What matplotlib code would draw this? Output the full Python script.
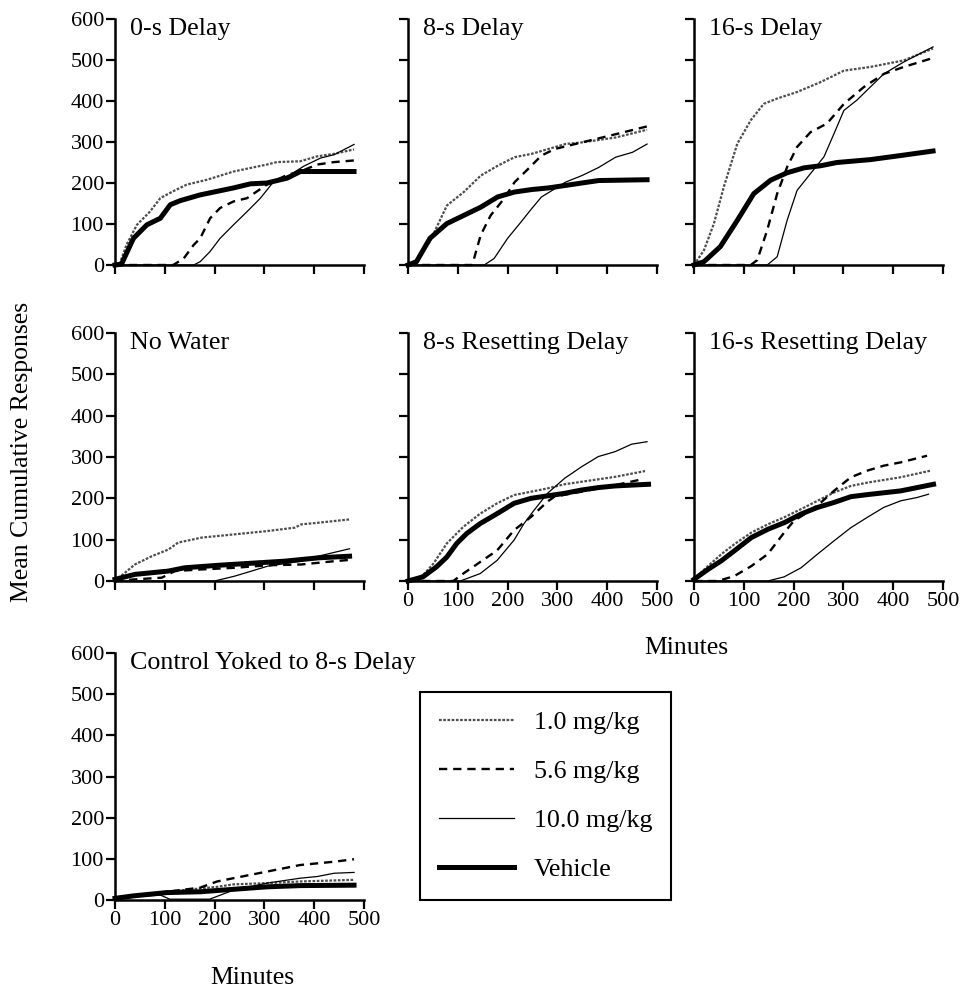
import matplotlib
matplotlib.use("Agg")
import matplotlib.pyplot as plt

plt.rcParams['font.family'] = ['Liberation Serif', 'DejaVu Serif']

# (minutes, mean cumulative responses)
d0_1mg = [(0,0),(10,5),(23,49),(44,98),(70,130),(91,163),(117,180),(144,196),(185,208),(238,228),(305,245),(325,251),(372,253),(406,265),(440,271),(480,282)]
d0_56mg = [(0,0),(117,0),(138,16),(158,49),(171,65),(191,114),(211,139),(238,155),(265,163),(305,196),(346,220),(372,228),(406,245),(440,251),(480,255)]
d0_10mg = [(0,0),(158,0),(171,8),(191,33),(211,65),(238,98),(265,130),(292,163),(319,204),(352,220),(379,241),(413,261),(440,269),(480,294)]
d0_veh = [(0,0),(13,2),(37,65),(64,98),(91,114),(111,147),(131,157),(171,171),(238,188),(272,198),(305,200),(346,212),(372,228),(480,228)]

d8_1mg = [(0,0),(17,12),(44,57),(78,145),(112,178),(146,218),(180,242),(214,263),(248,271),(282,283),(316,295),(349,299),(417,311),(480,330)]
d8_56mg = [(0,0),(129,0),(146,73),(166,121),(193,162),(214,202),(241,234),(268,267),(295,283),(349,299),(417,319),(480,338)]
d8_10mg = [(0,0),(153,0),(173,16),(200,65),(227,105),(248,137),(268,166),(295,186),(316,202),(349,218),(383,238),(417,263),(451,275),(480,295)]
d8_veh = [(0,0),(17,8),(44,65),(78,101),(112,121),(146,141),(180,166),(214,178),(248,184),(282,188),(316,194),(349,200),(383,206),(480,208)]

d16_1mg = [(0,0),(20,36),(40,101),(60,191),(87,296),(114,353),(140,393),(167,406),(207,422),(254,446),(301,474),(354,483),(421,499),(480,528)]
d16_56mg = [(0,0),(114,0),(127,12),(147,85),(167,174),(187,239),(207,288),(234,324),(267,345),(301,393),(341,434),(381,466),(421,483),(480,505)]
d16_10mg = [(0,0),(147,0),(167,20),(187,109),(207,182),(234,223),(261,264),(281,320),(301,377),(327,402),(354,434),(381,466),(421,495),(480,532)]
d16_veh = [(0,0),(20,8),(53,45),(87,109),(120,174),(154,207),(187,225),(221,237),(254,242),(287,250),(354,257),(421,268),(480,278)]

nw_1mg = [(0,0),(40,40),(74,60),(107,76),(127,93),(174,105),(241,113),(307,121),(361,129),(374,137),(408,141),(471,149)]
nw_56mg = [(0,0),(40,4),(94,8),(120,24),(174,28),(241,32),(307,38),(374,40),(441,48),(471,51)]
nw_10mg = [(0,0),(200,0),(241,12),(307,36),(374,48),(408,60),(471,78)]
nw_veh = [(0,4),(40,16),(107,24),(140,32),(207,38),(274,43),(341,48),(408,56),(471,60)]

r8_1mg = [(0,0),(30,14),(51,42),(78,91),(111,131),(145,163),(179,188),(213,208),(247,216),(280,224),(314,234),(348,240),(416,252),(476,266)]
r8_56mg = [(0,0),(91,0),(111,18),(145,46),(179,74),(213,123),(247,155),(280,192),(294,204),(348,216),(416,232),(470,246)]
r8_10mg = [(0,0),(105,0),(145,18),(179,50),(213,99),(233,139),(253,171),(280,212),(314,248),(348,276),(382,301),(416,313),(449,331),(480,337)]
r8_veh = [(0,0),(30,10),(57,34),(78,58),(98,91),(118,115),(145,139),(179,163),(213,188),(247,200),(280,206),(314,212),(348,220),(382,226),(416,230),(483,234)]

r16_1mg = [(0,5),(28,36),(55,65),(81,89),(115,117),(148,137),(181,154),(215,174),(248,194),(281,214),(315,230),(348,238),(415,251),(475,267)]
r16_56mg = [(0,0),(48,0),(81,12),(115,36),(148,65),(181,117),(201,146),(228,166),(255,190),(281,218),(315,251),(348,267),(381,279),(415,287),(468,303)]
r16_10mg = [(0,0),(148,0),(181,10),(215,32),(248,65),(281,97),(315,129),(348,154),(381,178),(415,194),(448,202),(471,210)]
r16_veh = [(0,4),(28,28),(55,49),(81,73),(115,105),(148,125),(181,141),(215,162),(248,178),(281,190),(315,204),(348,209),(415,218),(481,234)]

y8_1mg = [(0,4),(37,8),(104,20),(171,28),(205,32),(238,38),(305,41),(372,45),(480,49)]
y8_56mg = [(0,4),(37,10),(104,20),(171,30),(205,45),(238,53),(305,69),(372,85),(440,93),(480,99)]
y8_10mg = [(0,4),(37,8),(91,12),(110,2),(190,2),(238,24),(305,41),(372,53),(406,57),(440,65),(480,67)]
y8_veh = [(0,4),(37,10),(104,18),(171,20),(238,26),(305,32),(372,35),(480,36)]

titles = ["0-s Delay", "8-s Delay", "16-s Delay", "No Water",
          "8-s Resetting Delay", "16-s Resetting Delay", "Control Yoked to 8-s Delay"]
panel_data = [
    [d0_1mg, d0_56mg, d0_10mg, d0_veh],
    [d8_1mg, d8_56mg, d8_10mg, d8_veh],
    [d16_1mg, d16_56mg, d16_10mg, d16_veh],
    [nw_1mg, nw_56mg, nw_10mg, nw_veh],
    [r8_1mg, r8_56mg, r8_10mg, r8_veh],
    [r16_1mg, r16_56mg, r16_10mg, r16_veh],
    [y8_1mg, y8_56mg, y8_10mg, y8_veh],
]
labels = ["1.0 mg/kg", "5.6 mg/kg", "10.0 mg/kg", "Vehicle"]
styles = [
    dict(color="0.3", lw=1.6, ls=(0, (1.2, 0.7))),
    dict(color="black", lw=1.7, ls=(0, (3.5, 2.5))),
    dict(color="black", lw=0.9, ls="-"),
    dict(color="black", lw=3.6, ls="-"),
]

W, H = 964, 994
fig = plt.figure(figsize=(W / 100, H / 100), dpi=100)

col_x = [115, 408, 694]
row_y = [(19, 265), (333, 581), (653, 900)]
# (row, col, show x labels, show y labels)
layout = [(0, 0, False, True), (0, 1, False, False), (0, 2, False, False),
          (1, 0, False, True), (1, 1, True, False), (1, 2, True, False),
          (2, 0, True, True)]

axes = []
for (r, c, xl, yl), title, series in zip(layout, titles, panel_data):
    top, bot = row_y[r]
    ax = fig.add_axes([col_x[c] / W, 1 - bot / H, 249 / W, (bot - top) / H])
    for pts, st in zip(series, styles):
        t = [p[0] for p in pts]
        v = [p[1] for p in pts]
        ax.plot(t, v, color=st["color"], lw=st["lw"], ls=st["ls"], clip_on=False)
    ax.set_xlim(0, 500)
    ax.set_ylim(0, 600)
    ax.set_xticks(range(0, 501, 100))
    ax.set_yticks(range(0, 601, 100))
    for s in ["top", "right"]:
        ax.spines[s].set_visible(False)
    for s in ["left", "bottom"]:
        ax.spines[s].set_linewidth(1.8)
    ax.tick_params(direction="out", length=6.5, width=1.6, labelsize=16, pad=1.5)
    if not xl:
        ax.set_xticklabels([])
    if not yl:
        ax.set_yticklabels([])
    ax.text(0.06, 1.005, title, transform=ax.transAxes, ha="left", va="top", fontsize=18.7)
    axes.append(ax)

fig.text(22 / W, 1 - 452 / H, "Mean Cumulative Responses", rotation=90,
         ha="center", va="center", fontsize=18.5)
fig.text(686 / W, 1 - 648 / H, "Minutes", ha="center", va="center", fontsize=18.5)
fig.text(252 / W, 1 - 978 / H, "Minutes", ha="center", va="center", fontsize=18.5)

handles = axes[0].get_lines()
leg = fig.legend(handles, labels, loc="upper left",
                 bbox_to_anchor=(420 / W, 1 - 692 / H), fontsize=18.7,
                 frameon=True, fancybox=False, edgecolor="black", framealpha=1,
                 handlelength=2.9, handletextpad=0.77, labelspacing=1.0,
                 borderpad=0.72, borderaxespad=0)
leg.get_frame().set_linewidth(1.5)

fig.savefig("out.png", dpi=100)
